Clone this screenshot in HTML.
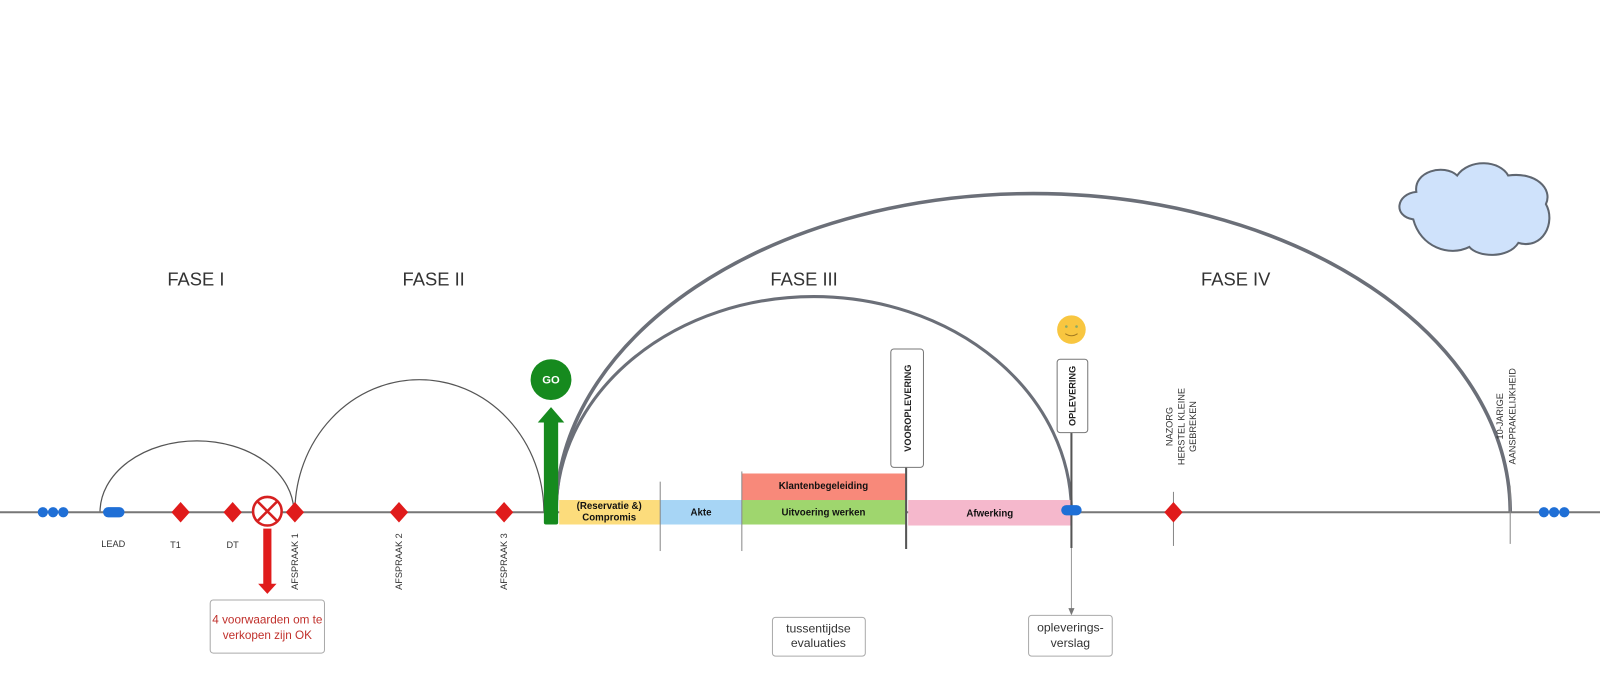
<!DOCTYPE html>
<html><head><meta charset="utf-8"><style>
html,body{margin:0;padding:0;background:#fff;overflow:hidden;}
svg{display:block;font-family:"Liberation Sans",sans-serif;}
</style></head><body>
<svg width="1600" height="678" viewBox="0 0 1568 664.4" xmlns="http://www.w3.org/2000/svg">
<rect width="1568" height="665" fill="#fff"/>
<!-- cloud -->
<path d="M1385,215 C1365,212 1368,190 1388,188 C1385,168 1415,160 1428,172 C1440,155 1470,157 1478,172 C1505,168 1522,185 1515,200 C1525,218 1512,245 1488,238 C1478,254 1448,252 1440,242 C1420,252 1392,242 1385,215 Z" fill="#cfe2fb" stroke="#5f6670" stroke-width="2"/>
<!-- FASE labels -->
<g font-size="18" fill="#333" text-anchor="middle">
<text x="192" y="280">FASE I</text><text x="425" y="280">FASE II</text><text x="788" y="280">FASE III</text><text x="1211" y="280">FASE IV</text>
</g>
<!-- arcs -->
<g fill="none">
<path d="M98,502 A95,70 0 0 1 288,502" stroke="#555" stroke-width="1.2"/>
<path d="M289,502 A122,130 0 0 1 533,502" stroke="#555" stroke-width="1.2"/>
<path d="M545,502 A252,211 0 0 1 1050,502" stroke="#6b6f78" stroke-width="3"/>
<path d="M545,502 A467,312 0 0 1 1480,502" stroke="#6b6f78" stroke-width="3.5"/>
</g>
<!-- timeline -->
<line x1="0" y1="502" x2="1568" y2="502" stroke="#777" stroke-width="2"/>
<!-- bars -->
<rect x="548" y="490" width="99" height="24" fill="#fcdc7c"/>
<rect x="647" y="490" width="80" height="24" fill="#a7d5f5"/>
<rect x="727" y="490" width="161" height="24" fill="#9fd66e"/>
<rect x="727" y="464" width="161" height="26" fill="#f8897a"/>
<rect x="890" y="490" width="160" height="25" fill="#f5b8cc"/>
<g font-size="9.5" font-weight="bold" fill="#111" text-anchor="middle">
<text x="597" y="499">(Reservatie &amp;)</text><text x="597" y="510">Compromis</text>
<text x="687" y="505">Akte</text>
<text x="807" y="479">Klantenbegeleiding</text>
<text x="807" y="505">Uitvoering werken</text>
<text x="970" y="506">Afwerking</text>
</g>
<g stroke="#888" stroke-width="1">
<line x1="647" y1="472" x2="647" y2="540"/><line x1="727" y1="462" x2="727" y2="540"/>
<line x1="1150" y1="482" x2="1150" y2="535"/><line x1="1480" y1="476" x2="1480" y2="533"/>
</g>
<line x1="888" y1="455" x2="888" y2="538" stroke="#555" stroke-width="2"/>
<line x1="1050" y1="424" x2="1050" y2="537" stroke="#555" stroke-width="2"/>
<!-- boxes vertical -->
<rect x="873" y="342" width="32" height="116" rx="3" fill="#fff" stroke="#777"/>
<text transform="translate(893,400) rotate(-90)" font-size="9" font-weight="bold" text-anchor="middle" fill="#222">VOOROPLEVERING</text>
<rect x="1036" y="352" width="30" height="72" rx="3" fill="#fff" stroke="#777"/>
<text transform="translate(1054,388) rotate(-90)" font-size="9" font-weight="bold" text-anchor="middle" fill="#222">OPLEVERING</text>
<!-- smiley -->
<circle cx="1050" cy="323" r="14" fill="#f8c640"/>
<circle cx="1045" cy="320" r="1.3" fill="#8a6"/><circle cx="1055" cy="320" r="1.3" fill="#8a6"/>
<path d="M1044,327 Q1050,331 1056,327" stroke="#a07820" fill="none" stroke-width="1"/>
<!-- dots -->
<g fill="#1f6fd6">
<circle cx="42" cy="502" r="5"/><circle cx="52" cy="502" r="5"/><circle cx="62" cy="502" r="5"/>
<circle cx="1513" cy="502" r="5"/><circle cx="1523" cy="502" r="5"/><circle cx="1533" cy="502" r="5"/>
<rect x="101" y="497" width="21" height="10" rx="5"/>
<rect x="1040" y="495" width="20" height="10" rx="5"/>
</g>
<!-- diamonds -->
<g fill="#e01b1b">
<path d="M177,492 l9,10 l-9,10 l-9,-10z"/><path d="M228,492 l9,10 l-9,10 l-9,-10z"/>
<path d="M289,492 l9,10 l-9,10 l-9,-10z"/><path d="M391,492 l9,10 l-9,10 l-9,-10z"/>
<path d="M494,492 l9,10 l-9,10 l-9,-10z"/><path d="M1150,492 l9,10 l-9,10 l-9,-10z"/>
</g>
<!-- crossed circle -->
<circle cx="262" cy="501" r="14" fill="#fff" stroke="#d62020" stroke-width="2.5"/>
<path d="M252,491 L272,511 M272,491 L252,511" stroke="#d62020" stroke-width="2.5"/>
<rect x="258" y="518" width="8" height="56" fill="#e01b1b"/>
<path d="M253,572 L271,572 L262,582 Z" fill="#e01b1b"/>
<!-- GO -->
<circle cx="540" cy="372" r="20" fill="#168a1e"/>
<text x="540" y="376" font-size="11" font-weight="bold" fill="#fff" text-anchor="middle">GO</text>
<rect x="533" y="412" width="14" height="102" rx="2" fill="#168a1e"/>
<path d="M527,414 L540,399 L553,414 Z" fill="#168a1e"/>
<!-- labels -->
<g font-size="9" fill="#333" text-anchor="middle">
<text x="111" y="536">LEAD</text><text x="172" y="537">T1</text><text x="228" y="537">DT</text>
</g>
<g font-size="9" fill="#333">
<text transform="translate(292,578) rotate(-90)">AFSPRAAK 1</text>
<text transform="translate(394,578) rotate(-90)">AFSPRAAK 2</text>
<text transform="translate(497,578) rotate(-90)">AFSPRAAK 3</text>
</g>
<g font-size="9" fill="#333" text-anchor="middle">
<text transform="translate(1149,418) rotate(-90)">NAZORG</text>
<text transform="translate(1161,418) rotate(-90)">HERSTEL KLEINE</text>
<text transform="translate(1172,418) rotate(-90)">GEBREKEN</text>
<text transform="translate(1473,408) rotate(-90)">10-JARIGE</text>
<text transform="translate(1485,408) rotate(-90)">AANSPRAKELIJKHEID</text>
</g>
<!-- bottom boxes -->
<rect x="206" y="588" width="112" height="52" rx="3" fill="#fff" stroke="#aaa"/>
<text x="262" y="611" font-size="11.5" fill="#c0302b" text-anchor="middle">4 voorwaarden om te</text>
<text x="262" y="626" font-size="11.5" fill="#c0302b" text-anchor="middle">verkopen zijn OK</text>
<rect x="757" y="605" width="91" height="38" rx="3" fill="#fff" stroke="#aaa"/>
<text x="802" y="620" font-size="12" fill="#333" text-anchor="middle">tussentijdse</text>
<text x="802" y="634" font-size="12" fill="#333" text-anchor="middle">evaluaties</text>
<line x1="1050" y1="537" x2="1050" y2="598" stroke="#999" stroke-width="1"/>
<path d="M1047,596 L1053,596 L1050,603 Z" fill="#777"/>
<rect x="1008" y="603" width="82" height="40" rx="3" fill="#fff" stroke="#aaa"/>
<text x="1049" y="619" font-size="12" fill="#333" text-anchor="middle">opleverings-</text>
<text x="1049" y="634" font-size="12" fill="#333" text-anchor="middle">verslag</text>
</svg>
</body></html>
